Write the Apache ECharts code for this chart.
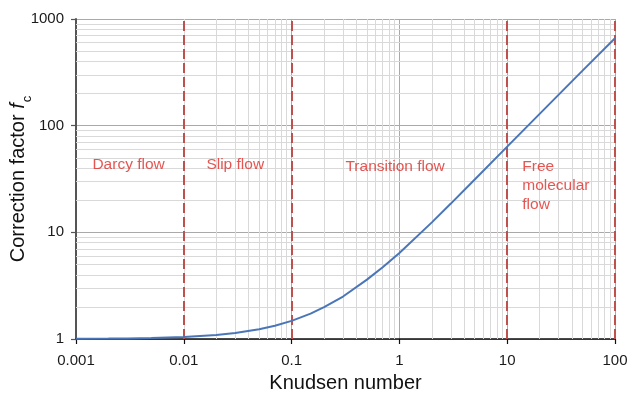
<!DOCTYPE html>
<html>
<head>
<meta charset="utf-8">
<script src="https://cdn.jsdelivr.net/npm/echarts@6/dist/echarts.min.js"></script>
<style>html,body{margin:0;padding:0;background:#fff;}#c{width:627px;height:396px;}</style>
</head>
<body>
<div id="c"></div>
<script>
// Knudsen number (x) and correction factor (y)
var knudsen = [0.001, 0.002, 0.003, 0.005, 0.01, 0.02, 0.03, 0.05, 0.07, 0.1, 0.15, 0.2, 0.3, 0.5, 0.7, 1, 2, 3, 5, 10, 20, 50, 100];
var correction = [1.004, 1.009, 1.013, 1.022, 1.045, 1.09, 1.14, 1.235, 1.33, 1.48, 1.73, 1.99, 2.5, 3.6, 4.7, 6.4, 12.4, 18.6, 31.3, 63.6, 129, 328, 660];
// flow regime boundaries (dashed red lines)
var boundaries = [0.01, 0.1, 10, 100];
// regime annotations
var regimeNames = ['Darcy flow', 'Slip flow', 'Transition flow', 'Free\nmolecular\nflow'];
var regimeX = [0.00142, 0.0162, 0.316, 13.8];
var regimeY = [42.7, 43.5, 41, 51];
// tick labels
var xTickLabels = ['0.001', '0.01', '0.1', '1', '10', '100'];
var yTickLabels = ['1', '10', '100', '1000'];

var FONT = '"Liberation Sans", Arial, sans-serif';

// minor grid line values (2..9 within each decade)
var minorX = [], minorY = [];
for (var d = -3; d < 2; d++) for (var k = 2; k <= 9; k++) minorX.push({xAxis: k * Math.pow(10, d)});
for (var d2 = 0; d2 < 3; d2++) for (var k2 = 2; k2 <= 9; k2++) minorY.push({yAxis: k2 * Math.pow(10, d2)});

var labelData = regimeNames.map(function (n, i) {
  return {
    value: [regimeX[i], regimeY[i]],
    label: {formatter: n, verticalAlign: i === 3 ? 'top' : 'middle'}
  };
});

var chart = echarts.init(document.getElementById('c'), null, {renderer: 'canvas'});
chart.setOption({
  animation: false,
  backgroundColor: '#ffffff',
  grid: {left: 76, right: 12, top: 19, bottom: 57, containLabel: false, outerBoundsMode: 'none'},
  xAxis: {
    type: 'log', logBase: 10, min: 0.001, max: 100,
    name: 'Knudsen number', nameLocation: 'middle', nameGap: 34, nameMoveOverlap: false,
    nameTextStyle: {fontFamily: FONT, fontSize: 20, color: '#111', verticalAlign: 'top'},
    axisLine: {show: true, onZero: false, lineStyle: {color: '#111', width: 1.5}},
    axisTick: {show: true, inside: false, length: 5, lineStyle: {color: '#111', width: 1.2}},
    axisLabel: {
      margin: 14, fontFamily: FONT, fontSize: 15, color: '#1a1a1a',
      formatter: function (v) { return xTickLabels[Math.round(Math.log10(v)) + 3]; }
    },
    splitLine: {show: true, lineStyle: {color: '#a9a9a9', width: 1}},
    minorTick: {show: false}, minorSplitLine: {show: false}
  },
  yAxis: {
    type: 'log', logBase: 10, min: 1, max: 1000,
    name: '{a|Correction factor }{b|f}{c|c}', nameLocation: 'middle', nameGap: 46, nameRotate: 90, nameMoveOverlap: false,
    nameTextStyle: {
      fontFamily: FONT, fontSize: 20, color: '#111',
      rich: {
        a: {fontFamily: FONT, fontSize: 20, color: '#111', lineHeight: 24},
        b: {fontFamily: FONT, fontSize: 20, fontStyle: 'italic', color: '#111', lineHeight: 24},
        c: {fontFamily: FONT, fontSize: 13, color: '#111', verticalAlign: 'bottom', lineHeight: 24, padding: [0, 0, -4, 1]}
      }
    },
    axisLine: {show: true, lineStyle: {color: '#555', width: 2}},
    axisTick: {show: true, inside: false, length: 5, lineStyle: {color: '#555', width: 1.2}},
    axisLabel: {
      margin: 12, fontFamily: FONT, fontSize: 15, color: '#1a1a1a',
      formatter: function (v) { return yTickLabels[Math.round(Math.log10(v))]; }
    },
    splitLine: {show: true, lineStyle: {color: '#a9a9a9', width: 1}},
    minorTick: {show: false}, minorSplitLine: {show: false}
  },
  series: [
    {
      type: 'line', data: [], z: 1, silent: true,
      markLine: {
        silent: true, symbol: ['none', 'none'], label: {show: false},
        lineStyle: {color: '#d9d9d9', width: 1, type: 'solid'},
        data: minorX.concat(minorY)
      }
    },
    {
      type: 'line', data: [], z: 3, silent: true,
      markLine: {
        silent: true, symbol: ['none', 'none'], label: {show: false},
        lineStyle: {color: '#c0504d', width: 2, type: [10, 4]},
        data: boundaries.map(function (b) { return {xAxis: b}; })
      }
    },
    {
      type: 'line', z: 5,
      data: knudsen.map(function (x, i) { return [x, correction[i]]; }),
      showSymbol: false, symbol: 'none', smooth: false,
      lineStyle: {color: '#4a76b8', width: 2}
    },
    {
      type: 'scatter', z: 6, symbolSize: 0, silent: true,
      data: labelData,
      label: {
        show: true, position: 'inside', align: 'left',
        fontFamily: FONT, fontSize: 15.5, color: '#e02a26', lineHeight: 19
      }
    }
  ]
});
</script>
</body>
</html>
